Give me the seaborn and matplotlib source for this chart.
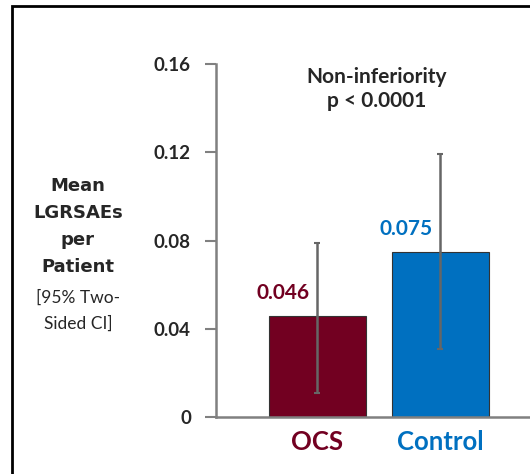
import matplotlib
matplotlib.use("Agg")
import matplotlib.pyplot as plt
import seaborn as sns
import pandas as pd
from matplotlib.patches import Rectangle

groups = ["OCS", "Control"]
means = [0.046, 0.075]
ci_low = [0.011, 0.031]
ci_high = [0.079, 0.119]
value_labels = ["0.046", "0.075"]
colors = ["#720021", "#0070C0"]
yticks = [0, 0.04, 0.08, 0.12, 0.16]
ytick_labels = ["0", "0.04", "0.08", "0.12", "0.16"]

sns.set_style("white")
plt.rcParams['font.family'] = ['Lato', 'DejaVu Sans']

W, H = 530, 474
fig = plt.figure(figsize=(W / 100, H / 100), dpi=100)
ax = fig.add_axes([216 / W, (H - 417) / H, (530 - 216) / W, (417 - 64) / H])

df = pd.DataFrame({"group": groups, "mean": means})
sns.barplot(data=df, x="group", y="mean", hue="group", palette=colors,
            order=groups, hue_order=groups, legend=False, width=0.79,
            saturation=1, edgecolor="#333333", linewidth=0.8, ax=ax, errorbar=None)

x = list(range(len(groups)))
yerr = [[m - lo for m, lo in zip(means, ci_low)], [hi - m for m, hi in zip(means, ci_high)]]
ax.errorbar(x, means, yerr=yerr, fmt="none", ecolor="#666666", elinewidth=1.8,
            capsize=2.5, capthick=1.5, zorder=5)

for xi, m, lab, c in zip(x, means, value_labels, colors):
    ax.text(xi - 0.28, m + 0.0055, lab, ha="center", va="bottom", color=c,
            fontsize=15, fontweight="bold")

ax.set_ylim(0, 0.16)
ax.set_xlim(-0.825, 1.728)
ax.set_yticks(yticks)
ax.set_yticklabels(ytick_labels, fontsize=13.5, fontweight="bold")
ax.set_xticks(x)
ax.set_xticklabels(groups, fontsize=18.5, fontweight="bold")
for lbl, c in zip(ax.get_xticklabels(), colors):
    lbl.set_color(c)
ax.tick_params(axis="y", which="both", left=True, length=8, width=1.5, color="#808080", pad=10)
ax.tick_params(axis="x", bottom=False, pad=6)
ax.set_xlabel("")
ax.set_ylabel("")
for s in ["top", "right"]:
    ax.spines[s].set_visible(False)
for s in ["left", "bottom"]:
    ax.spines[s].set_color("#808080")
    ax.spines[s].set_linewidth(1.8)

ax.text(0.484, 0.1485, "Non-inferiority\np < 0.0001",
        ha="center", va="center", fontsize=15, fontweight="bold", linespacing=1.25)

fig.text(78 / W, 1 - 226.5 / H, "Mean\nLGRSAEs\nper\nPatient", ha="center", va="center",
         fontsize=13, fontweight="bold", family=["DejaVu Sans"], linespacing=1.62)
fig.text(78 / W, 1 - 310.5 / H, "[95% Two-\nSided CI]", ha="center", va="center",
         fontsize=12.5, linespacing=1.72)

fig.patches.append(Rectangle((12 / W, -0.1), 1.2, (H - 6) / H + 0.1, transform=fig.transFigure,
                             fill=False, edgecolor="black", linewidth=2.0, zorder=10))

fig.savefig("out.png", dpi=100)
